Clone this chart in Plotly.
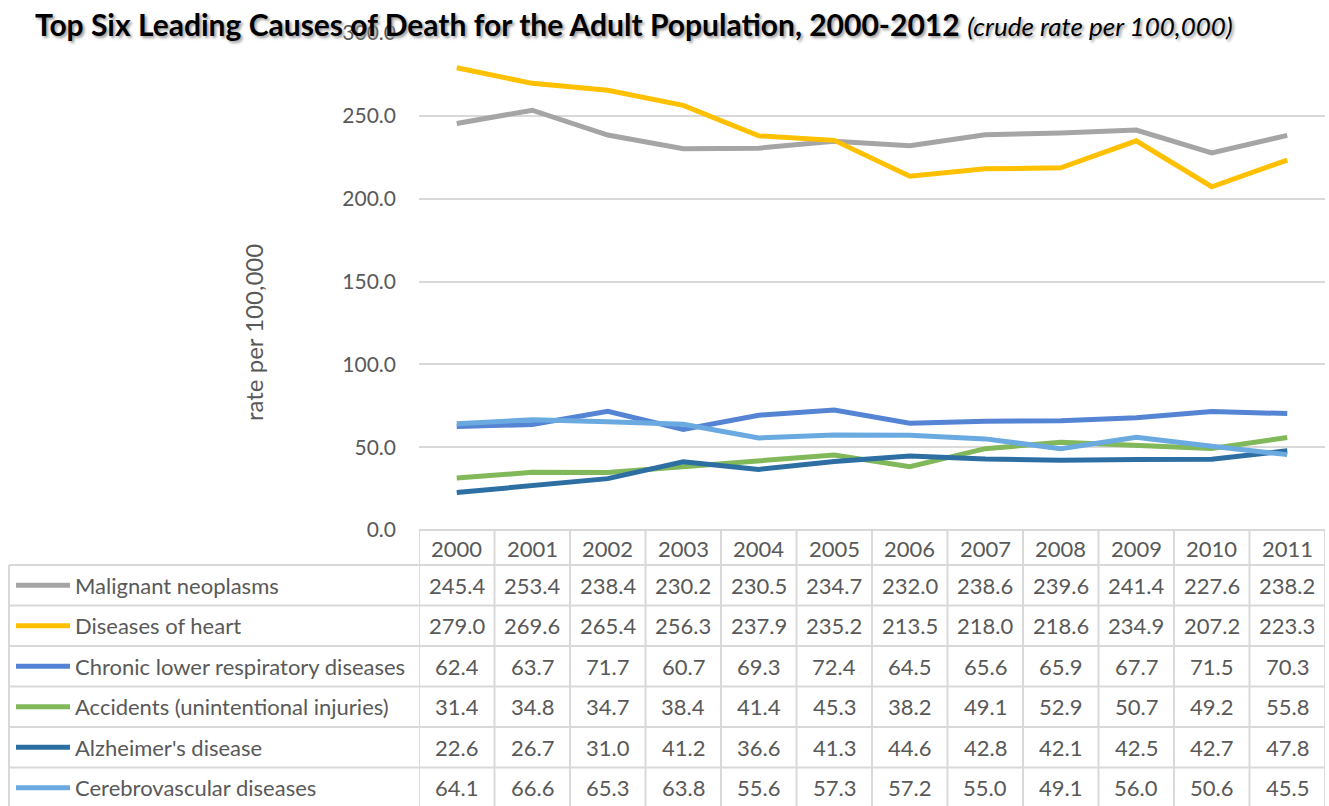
import plotly.graph_objects as go

# Crude death rates per 100,000, adult population
years = [2000, 2001, 2002, 2003, 2004, 2005, 2006, 2007, 2008, 2009, 2010, 2011]
causes = [
    "Malignant neoplasms",
    "Diseases of heart",
    "Chronic lower respiratory diseases",
    "Accidents (unintentional injuries)",
    "Alzheimer's disease",
    "Cerebrovascular diseases",
]
malignant = [245.4, 253.4, 238.4, 230.2, 230.5, 234.7, 232.0, 238.6, 239.6, 241.4, 227.6, 238.2]
heart = [279.0, 269.6, 265.4, 256.3, 237.9, 235.2, 213.5, 218.0, 218.6, 234.9, 207.2, 223.3]
chronic = [62.4, 63.7, 71.7, 60.7, 69.3, 72.4, 64.5, 65.6, 65.9, 67.7, 71.5, 70.3]
accidents = [31.4, 34.8, 34.7, 38.4, 41.4, 45.3, 38.2, 49.1, 52.9, 50.7, 49.2, 55.8]
alzheimer = [22.6, 26.7, 31.0, 41.2, 36.6, 41.3, 44.6, 42.8, 42.1, 42.5, 42.7, 47.8]
cerebro = [64.1, 66.6, 65.3, 63.8, 55.6, 57.3, 57.2, 55.0, 49.1, 56.0, 50.6, 45.5]
series = [malignant, heart, chronic, accidents, alzheimer, cerebro]
colors = ["#A5A5A5", "#FFC000", "#5584D4", "#80B85A", "#2E6FA3", "#6AAAE0"]
y_ticks = [0, 50, 100, 150, 200, 250, 300]

W, H = 1329, 806
L, R, T, B = 419, 4, 33, 276
PW, PH = W - L - R, H - T - B
FONT = "Lato"
GREY_TXT = "#595959"
BORDER = "#D9D9D9"
TXT_SIZE = 22


def px_x(px):
    return (px - L) / PW


def px_y(py):
    return (H - B - py) / PH


fig = go.Figure()
for name, vals, col in zip(causes, series, colors):
    fig.add_trace(go.Scatter(x=years, y=vals, name=name, mode="lines",
                             line=dict(color=col, width=5), showlegend=False))

shapes = []
annotations = []

# Data table geometry
header_top, header_bot = 530, 565
row_h = 40.5
row_tops = [header_bot + i * row_h for i in range(len(causes))]
table_bot = row_tops[-1] + row_h
left_edge = 9

line_style = dict(color=BORDER, width=2)
# header box top
shapes.append(dict(type="line", xref="paper", yref="paper", x0=0, x1=1,
                   y0=px_y(header_top), y1=px_y(header_top), line=line_style))
# horizontal row lines
for yt in row_tops + [table_bot]:
    shapes.append(dict(type="line", xref="paper", yref="paper", x0=px_x(left_edge), x1=1,
                       y0=px_y(yt), y1=px_y(yt), line=line_style))
# vertical column lines
for i in range(len(years) + 1):
    xb = years[0] - 0.5 + i
    shapes.append(dict(type="line", xref="x", yref="paper", x0=xb, x1=xb,
                       y0=px_y(header_top), y1=px_y(table_bot), line=line_style))
shapes.append(dict(type="line", xref="paper", yref="paper", x0=px_x(left_edge), x1=px_x(left_edge),
                   y0=px_y(header_bot), y1=px_y(table_bot), line=line_style))

# header year labels
for yr in years:
    annotations.append(dict(x=yr, y=px_y((header_top + header_bot) / 2 + 1), xref="x", yref="paper",
                            text=str(yr), showarrow=False, yanchor="middle",
                            font=dict(family=FONT, size=TXT_SIZE, color=GREY_TXT)))

# rows: legend swatch, label and values
for r, (name, vals, col) in enumerate(zip(causes, series, colors)):
    yc = px_y(row_tops[r] + row_h / 2)
    shapes.append(dict(type="line", xref="paper", yref="paper", x0=px_x(16), x1=px_x(70),
                       y0=yc, y1=yc, line=dict(color=col, width=5)))
    annotations.append(dict(x=px_x(73), y=yc, xref="paper", yref="paper", text=name,
                            showarrow=False, xanchor="left", yanchor="middle",
                            font=dict(family=FONT, size=TXT_SIZE, color=GREY_TXT)))
    for yr, v in zip(years, vals):
        annotations.append(dict(x=yr, y=yc, xref="x", yref="paper", text=f"{v:.1f}",
                                showarrow=False, yanchor="middle",
                                font=dict(family=FONT, size=TXT_SIZE, color=GREY_TXT)))

# axis title
annotations.append(dict(x=px_x(253), y=px_y(333), xref="paper", yref="paper",
                        text="rate per 100,000", textangle=-90, showarrow=False,
                        xanchor="center", yanchor="middle",
                        font=dict(family=FONT, size=24, color=GREY_TXT)))

# chart title
annotations.append(dict(
    x=px_x(33), y=px_y(24), xref="paper", yref="paper", xanchor="left", yanchor="middle",
    showarrow=False,
    text="<b>Top Six Leading Causes of Death for the Adult Population, 2000-2012</b> "
         "<i><span style='font-size:26px'>(crude rate per 100,000)</span></i>",
    font=dict(family=FONT, size=30, color="#000000", shadow="2px 2px 3px #9a9a9a")))

fig.update_layout(
    width=W, height=H,
    margin=dict(l=L, r=R, t=T, b=B),
    paper_bgcolor="white", plot_bgcolor="white",
    xaxis=dict(range=[years[0] - 0.5, years[-1] + 0.5], showticklabels=False,
               showgrid=False, zeroline=False, showline=False, fixedrange=True),
    yaxis=dict(range=[0, 300], tickvals=y_ticks, ticktext=[f"{v:.1f}" for v in y_ticks],
               showgrid=True, gridcolor=BORDER, gridwidth=2, zeroline=False,
               ticklabelstandoff=22,
               tickfont=dict(family=FONT, size=21, color=GREY_TXT), fixedrange=True),
    shapes=shapes,
    annotations=annotations,
)

fig.write_html("out.html")
